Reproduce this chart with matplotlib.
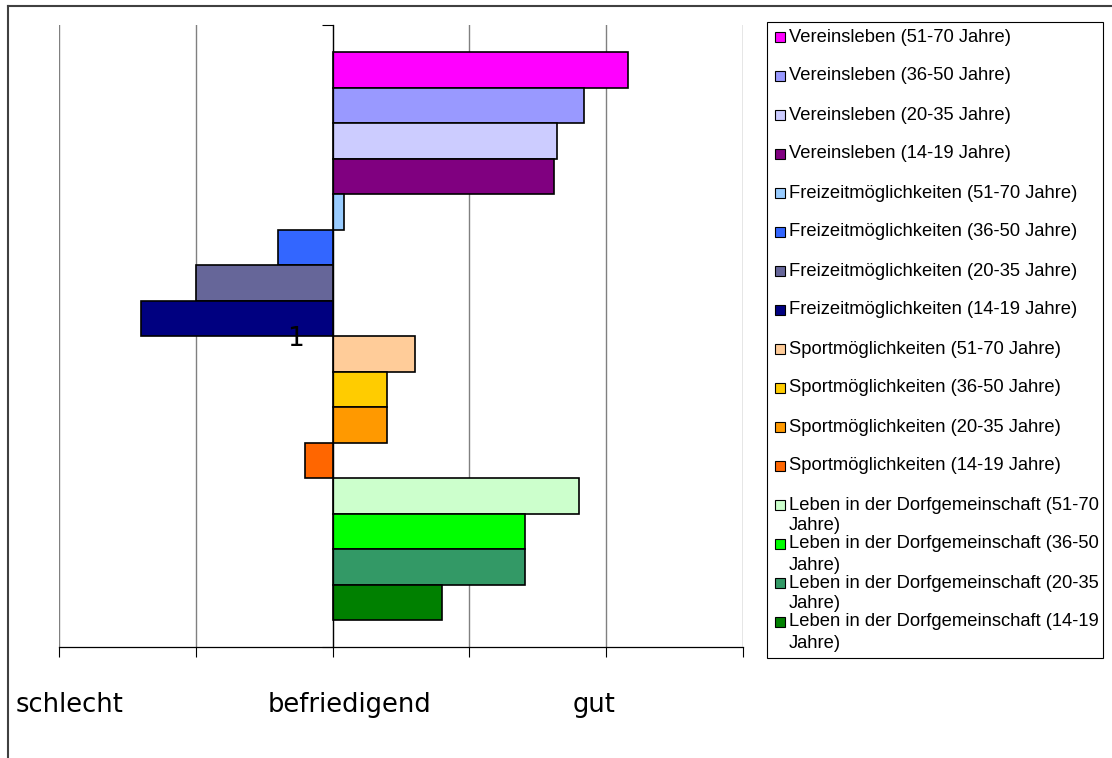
import matplotlib.pyplot as plt
from matplotlib.patches import Rectangle
from matplotlib.lines import Line2D

W, H = 1112, 758

labels = [
    'Vereinsleben (51-70 Jahre)',
    'Vereinsleben (36-50 Jahre)',
    'Vereinsleben (20-35 Jahre)',
    'Vereinsleben (14-19 Jahre)',
    'Freizeitmöglichkeiten (51-70 Jahre)',
    'Freizeitmöglichkeiten (36-50 Jahre)',
    'Freizeitmöglichkeiten (20-35 Jahre)',
    'Freizeitmöglichkeiten (14-19 Jahre)',
    'Sportmöglichkeiten (51-70 Jahre)',
    'Sportmöglichkeiten (36-50 Jahre)',
    'Sportmöglichkeiten (20-35 Jahre)',
    'Sportmöglichkeiten (14-19 Jahre)',
    'Leben in der Dorfgemeinschaft (51-70 Jahre)',
    'Leben in der Dorfgemeinschaft (36-50 Jahre)',
    'Leben in der Dorfgemeinschaft (20-35 Jahre)',
    'Leben in der Dorfgemeinschaft (14-19 Jahre)',
]
values = [2.16, 1.84, 1.64, 1.62, 0.08, -0.40, -1.00, -1.40,
          0.60, 0.40, 0.40, -0.20, 1.80, 1.41, 1.41, 0.80]
colors = ['#FF00FF', '#9999FF', '#CCCCFF', '#800080',
          '#99CCFF', '#3366FF', '#666699', '#000080',
          '#FFCC99', '#FFCC00', '#FF9900', '#FF6600',
          '#CCFFCC', '#00FF00', '#339966', '#008000']
category = '1'
scale_labels = ['schlecht', 'befriedigend', 'gut']
scale_x = [70, 349, 594]

fig = plt.figure(figsize=(W / 100, H / 100), dpi=100)
ax = fig.add_axes([59 / W, 111 / H, 684 / W, 622 / H])

n = len(values)
h = 35.5 / 622
pos = [(n / 2 - 0.5 - i) * h for i in range(n)]

for x in range(-2, 4):
    ax.axvline(x, color='#808080', lw=1, zorder=0)
ax.barh(pos, values, height=h, color=colors, edgecolor='black', linewidth=1.2, zorder=1)

ax.set_xlim(-2, 3)
ax.set_ylim(-0.5, 0.5)
ax.set_xticks(range(-2, 4))
ax.set_xticklabels([])
ax.tick_params(axis='x', direction='out', length=7.5, width=0.8, color='black')

ax.spines['left'].set_position(('data', 0))
ax.spines['top'].set_visible(False)
ax.spines['right'].set_visible(False)
for s in ('left', 'bottom'):
    ax.spines[s].set_linewidth(0.9)

ax.set_yticks([0])
ax.set_yticklabels([category], fontsize=19)
ax.set_yticks([-0.5, 0.5], minor=True)
ax.tick_params(axis='y', which='major', length=0, pad=21)
ax.tick_params(axis='y', which='minor', length=8, width=0.8, direction='out')

# legend drawn by hand so the wrapped entries overlap like the original
fig.patches.append(Rectangle((767 / W, 1 - 658 / H), 336 / W, 636 / H,
                             transform=fig.transFigure, facecolor='white',
                             edgecolor='black', lw=0.8))
for i, (lab, col) in enumerate(zip(labels, colors)):
    y = 37 + i * 39
    fig.patches.append(Rectangle((775 / W, 1 - (y + 5) / H), 10 / W, 10 / H,
                                 transform=fig.transFigure, facecolor=col,
                                 edgecolor='black', lw=0.8))
    lines = lab.rsplit(' ', 1) if len(lab) > 36 else [lab]
    for j, line in enumerate(lines):
        fig.text(789 / W, 1 - (y + j * 21) / H, line, va='center', ha='left',
                 fontsize=13.2, family='Liberation Sans')

for lab, x in zip(scale_labels, scale_x):
    fig.text(x / W, 1 - 705 / H, lab, ha='center', va='center', fontsize=18.5)

# outer chart frame (only top and left edge visible)
fig.add_artist(Line2D([7.5 / W, 7.5 / W], [0, 1 - 5.5 / H], transform=fig.transFigure,
                      color='#404040', lw=1.5))
fig.add_artist(Line2D([7.5 / W, 1], [1 - 5.5 / H, 1 - 5.5 / H], transform=fig.transFigure,
                      color='#404040', lw=1.5))

fig.savefig('out.png', dpi=100)
